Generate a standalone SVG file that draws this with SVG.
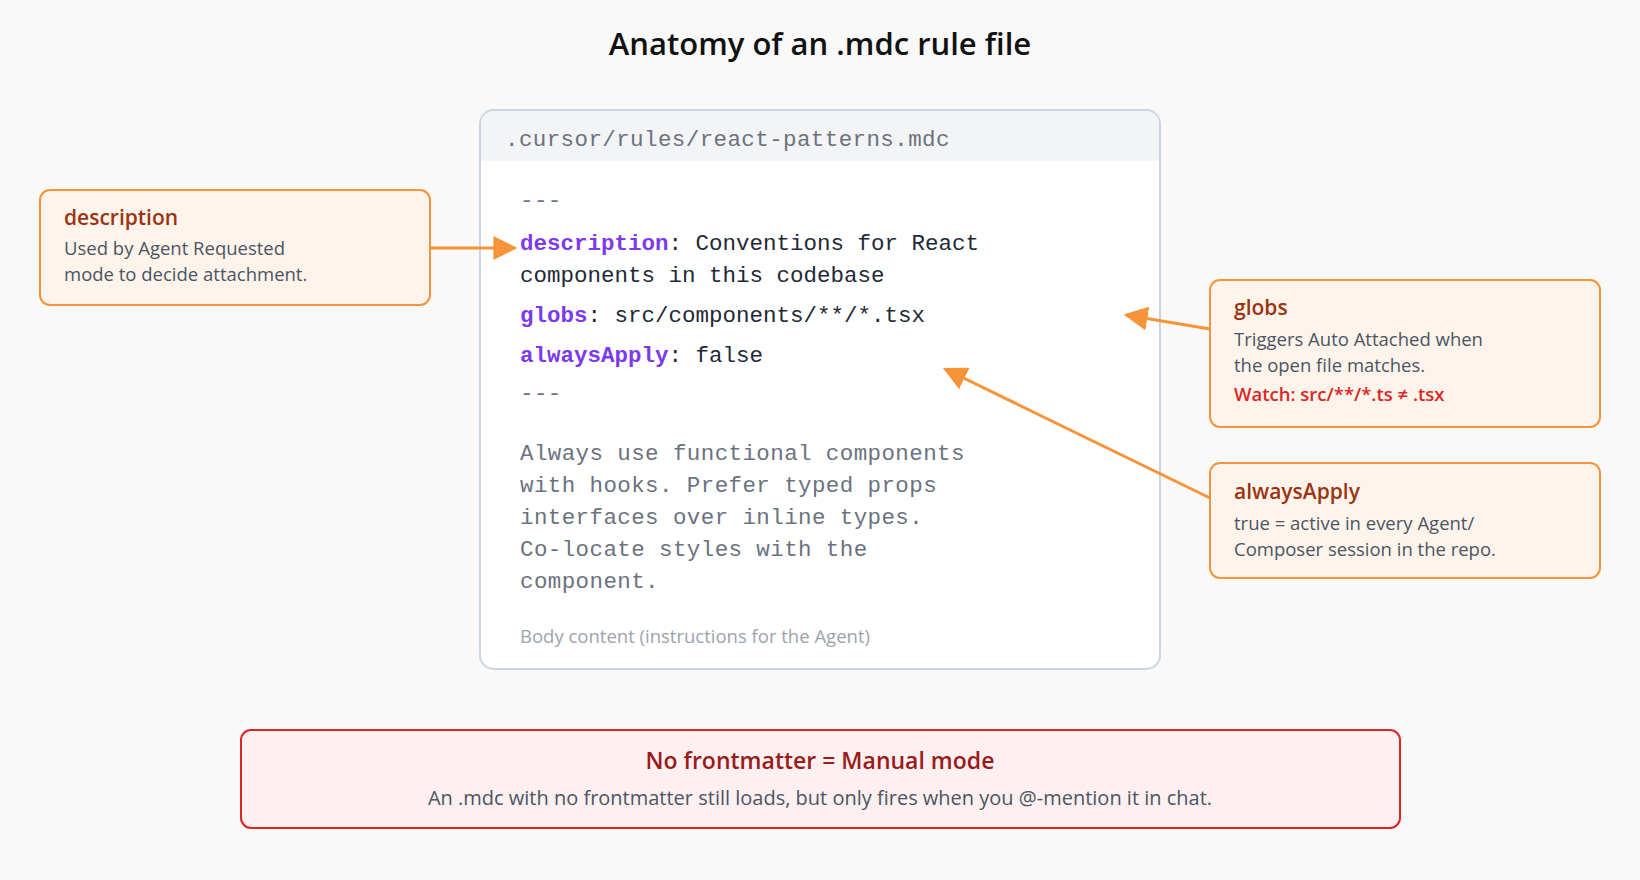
<svg xmlns="http://www.w3.org/2000/svg" width="1640" height="880" viewBox="0 0 1640 880">
<defs>
<marker id="ah" viewBox="0 0 10 10" refX="9" refY="5" markerWidth="8" markerHeight="8" orient="auto-start-reverse"><path d="M0,0 L10,5 L0,10 z" fill="#f7943a"/></marker>
<style>
.sans{font-family:"Open Sans","Noto Sans",sans-serif}
.mono{font-family:"Liberation Mono",monospace;font-size:22.5px}
.gray{fill:#6b7280;letter-spacing:0.4px}
.key{fill:#7c3aed;font-weight:bold}
.code{fill:#1f2937}
.call{fill:#fff4eb;stroke:#f7943a;stroke-width:2}
.ct{font-size:21px;font-weight:600;fill:#9a3412}
.cb{font-size:18.5px;fill:#4b5563}
.conn{stroke:#f7943a;stroke-width:3;fill:none;marker-end:url(#ah)}
</style>
</defs>
<rect width="1640" height="880" fill="#f9f9f9"/>
<text x="820" y="55" text-anchor="middle" class="sans" font-size="31" font-weight="600" fill="#111">Anatomy of an .mdc rule file</text>
<g id="file">
<rect x="480" y="110" width="680" height="559" rx="14" fill="#fff" stroke="#cbd5e1" stroke-width="2"/>
<path d="M481,161 V124 a13,13 0 0 1 13,-13 H1146 a13,13 0 0 1 13,13 V161 z" fill="#f3f4f6"/>
<text x="505" y="146" class="mono gray" font-size="21">.cursor/rules/react-patterns.mdc</text>
<text x="520" y="207" class="mono gray">---</text>
<text x="520" y="250" class="mono"><tspan class="key">description</tspan><tspan class="code">: Conventions for React</tspan></text>
<text x="520" y="282" class="mono code">components in this codebase</text>
<text x="520" y="322" class="mono"><tspan class="key">globs</tspan><tspan class="code">: src/components/**/*.tsx</tspan></text>
<text x="520" y="362" class="mono"><tspan class="key">alwaysApply</tspan><tspan class="code">: false</tspan></text>
<text x="520" y="400" class="mono gray">---</text>
<text class="mono gray"><tspan x="520" y="460">Always use functional components</tspan><tspan x="520" y="492">with hooks. Prefer typed props</tspan><tspan x="520" y="524">interfaces over inline types.</tspan><tspan x="520" y="556">Co-locate styles with the</tspan><tspan x="520" y="588">component.</tspan></text>
<text x="520" y="643" class="sans" font-size="18.5" fill="#9ca3af">Body content (instructions for the Agent)</text>
</g>
<g id="desc">
<rect class="call" x="40" y="190" width="390" height="115" rx="10"/>
<text x="64" y="225" class="sans ct">description</text>
<text x="64" y="255" class="sans cb">Used by Agent Requested</text>
<text x="64" y="281" class="sans cb">mode to decide attachment.</text>
</g>
<g id="globs">
<rect class="call" x="1210" y="280" width="390" height="147" rx="10"/>
<text x="1234" y="315" class="sans ct">globs</text>
<text x="1234" y="346" class="sans cb">Triggers Auto Attached when</text>
<text x="1234" y="372" class="sans cb">the open file matches.</text>
<text x="1234" y="401" class="sans" font-size="18.5" font-weight="600" fill="#dc2626">Watch: src/**/*.ts ≠ .tsx</text>
</g>
<g id="always">
<rect class="call" x="1210" y="463" width="390" height="115" rx="10"/>
<text x="1234" y="499" class="sans ct">alwaysApply</text>
<text x="1234" y="530" class="sans cb">true = active in every Agent/</text>
<text x="1234" y="556" class="sans cb">Composer session in the repo.</text>
</g>
<g id="manual">
<rect x="241" y="730" width="1159" height="98" rx="10" fill="#fef0f0" stroke="#dc2626" stroke-width="2"/>
<text x="820" y="769" text-anchor="middle" class="sans" font-size="23" font-weight="600" fill="#991b1b">No frontmatter = Manual mode</text>
<text x="820" y="805" text-anchor="middle" class="sans" font-size="20" fill="#4b5563">An .mdc with no frontmatter still loads, but only fires when you @-mention it in chat.</text>
</g>
<g id="connectors">
<line class="conn" x1="430" y1="248" x2="515" y2="248"/>
<line class="conn" x1="1210" y1="329" x2="1126" y2="315"/>
<line class="conn" x1="1210" y1="498" x2="945" y2="369"/>
</g>
</svg>
